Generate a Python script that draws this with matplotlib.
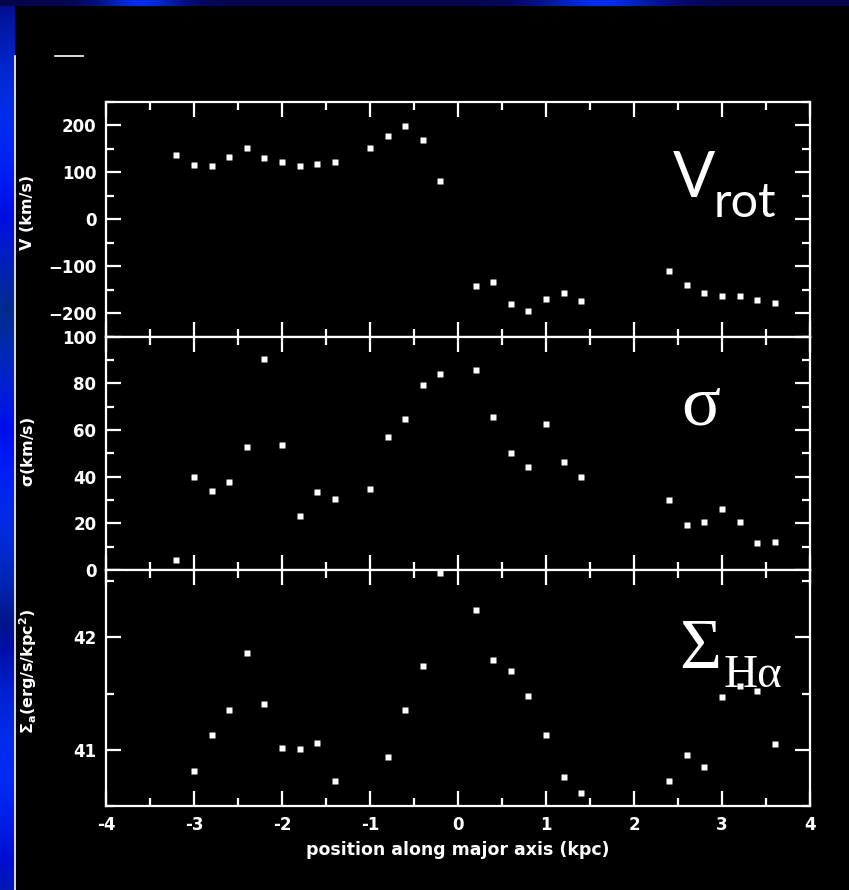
import numpy as np
import matplotlib
matplotlib.use('Agg')
import matplotlib.pyplot as plt
from matplotlib.ticker import MultipleLocator

# positions along the major axis (kpc)
pos_kin = [-3.2, -3.0, -2.8, -2.6, -2.4, -2.2, -2.0, -1.8, -1.6, -1.4,
           -1.0, -0.8, -0.6, -0.4, -0.2, 0.2, 0.4, 0.6, 0.8, 1.0, 1.2, 1.4,
           2.4, 2.6, 2.8, 3.0, 3.2, 3.4, 3.6]
v_rot = [137, 116, 113, 133, 152, 131, 121, 113, 117, 121,
         152, 178, 199, 168, 81, -142, -134, -181, -195, -169, -157, -174,
         -110, -139, -157, -164, -164, -172, -178]
sigma = [4.3, 39.8, 33.7, 37.8, 52.9, 90.6, 53.6, 23.2, 33.6, 30.6,
         34.7, 56.9, 64.9, 79.4, 84.1, 85.8, 65.4, 50.1, 44.1, 62.6, 46.5, 40.0,
         30.0, 19.5, 20.5, 26.3, 20.4, 11.4, 12.2]

pos_sb = [-3.0, -2.8, -2.6, -2.4, -2.2, -2.0, -1.8, -1.6, -1.4,
          -0.8, -0.6, -0.4, -0.2, 0.2, 0.4, 0.6, 0.8, 1.0, 1.2, 1.4,
          2.4, 2.6, 2.8, 3.0, 3.2, 3.4, 3.6]
sigma_ha = [40.81, 41.13, 41.35, 41.86, 41.41, 41.02, 41.01, 41.06, 40.72,
            40.94, 41.35, 41.75, 42.57, 42.24, 41.80, 41.70, 41.48, 41.13, 40.76, 40.62,
            40.72, 40.95, 40.85, 41.47, 41.57, 41.52, 41.05]

x_ticks = [-4, -3, -2, -1, 0, 1, 2, 3, 4]
x_tick_labels = ['-4', '-3', '-2', '-1', '0', '1', '2', '3', '4']

plt.rcParams['mathtext.default'] = 'bf'

W, H = 849, 890
fig = plt.figure(figsize=(W / 100, H / 100), dpi=100, facecolor='black')

# slide background: blue strips on the left and top edges
bg = fig.add_axes([0, 0, 1, 1], zorder=-10)
img = np.zeros((H, W, 3))
rows = np.linspace(0, 1, H)
img[:, :15, 2] = (0.55 + 0.4 * np.abs(np.sin(rows * 9)))[:, None]
img[:, :15, 1] = (0.05 + 0.12 * np.abs(np.sin(rows * 13)))[:, None]
cols = np.arange(W)
glow = np.exp(-((cols - 140) / 40.0) ** 2) + np.exp(-((cols - 600) / 60.0) ** 2)
img[:6, :, 2] = (0.3 + 0.65 * glow)[None, :]
img[:6, :, 1] = (0.02 + 0.15 * glow)[None, :]
img[:6, :, 0] = 0.02
bg.imshow(img, aspect='auto', extent=[0, W, H, 0])
bg.plot([15.5, 15.5], [56, H], color='white', lw=1.2)
bg.plot([55, 83], [55.5, 55.5], color='white', lw=1.2)
bg.set_xlim(0, W)
bg.set_ylim(H, 0)
bg.axis('off')

left = 106 / W
width = (810 - 106) / W


def panel(y_top, y_bot):
    return fig.add_axes([left, (H - y_bot) / H, width, (y_bot - y_top) / H])


ax1 = panel(101.7, 336.7)
ax2 = panel(336.7, 570)
ax3 = panel(570, 806)

for ax in (ax1, ax2, ax3):
    ax.set_facecolor('black')
    for s in ax.spines.values():
        s.set_color('white')
        s.set_linewidth(1.6)
    ax.set_xlim(-4, 4)
    ax.set_xticks(x_ticks)
    ax.xaxis.set_minor_locator(MultipleLocator(0.5))
    ax.tick_params(which='both', direction='in', top=True, right=True,
                   colors='white', width=1.6, labelsize=12, pad=7)
    ax.tick_params(which='major', length=11)
    ax.tick_params(which='minor', length=6)

ax1.plot(pos_kin, v_rot, 's', color='white', ms=3.8, mec='none')
ax1.set_ylim(-250, 250)
ax1.set_yticks([-200, -100, 0, 100, 200])
ax1.yaxis.set_minor_locator(MultipleLocator(50))
ax1.tick_params(labelbottom=False)

ax2.plot(pos_kin, sigma, 's', color='white', ms=3.8, mec='none')
ax2.set_ylim(0, 100)
ax2.set_yticks([0, 20, 40, 60, 80, 100])
ax2.yaxis.set_minor_locator(MultipleLocator(10))
ax2.tick_params(labelbottom=False)

ax3.plot(pos_sb, sigma_ha, 's', color='white', ms=3.8, mec='none', clip_on=False)
ax3.set_ylim(40.5, 42.6)
ax3.set_yticks([41, 42])
ax3.yaxis.set_minor_locator(MultipleLocator(0.5))
ax3.set_xticklabels(x_tick_labels, fontweight='bold')
ax3.set_xlabel('position along major axis (kpc)', color='white',
               fontsize=12.5, fontweight='bold', labelpad=5)

for ax in (ax1, ax2, ax3):
    for lab in ax.get_yticklabels():
        lab.set_fontweight('bold')


def px(x, y):
    return x / W, (H - y) / H


fig.text(*px(28, 212), 'V (km/s)', rotation=90, color='white', fontsize=11.5,
         fontweight='bold', ha='center', va='center')
fig.text(*px(28, 452), r'$\sigma$(km/s)', rotation=90, color='white', fontsize=11.5,
         fontweight='bold', ha='center', va='center')
fig.text(*px(28, 671), r'$\Sigma_a$(erg/s/kpc$^2$)', rotation=90, color='white',
         fontsize=11.5, fontweight='bold', ha='center', va='center')

# panel names
fig.text(*px(673, 197), 'V', color='white', fontsize=45, family='Lato',
         ha='left', va='baseline')
fig.text(*px(714, 217), 'rot', color='white', fontsize=35, family='Lato',
         ha='left', va='baseline')
fig.text(*px(681, 425), '\u03c3', color='white', fontsize=52,
         family='Liberation Serif', ha='left', va='baseline')
fig.text(*px(679, 668), '\u03a3', color='white', fontsize=52,
         family='Liberation Serif', ha='left', va='baseline')
fig.text(*px(724, 687), 'H\u03b1', color='white', fontsize=34,
         family='Liberation Serif', ha='left', va='baseline')

fig.savefig('out.png', dpi=100, facecolor=fig.get_facecolor())
plt.close(fig)
